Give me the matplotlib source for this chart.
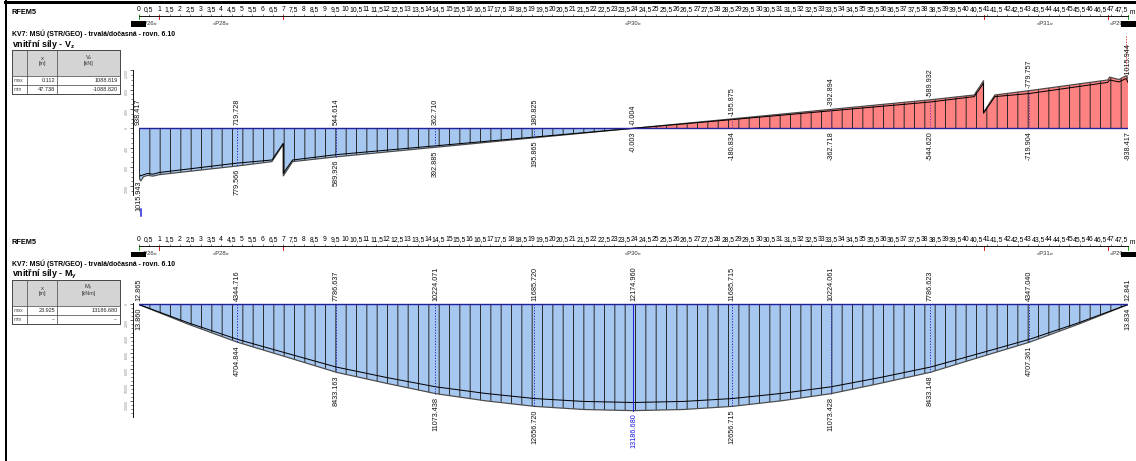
import numpy as np
import matplotlib
matplotlib.use("Agg")
import matplotlib.pyplot as plt
import matplotlib.transforms as mtransforms
from matplotlib.ticker import MultipleLocator, FuncFormatter
from matplotlib.patches import Rectangle

W, H, DPI = 1136, 461, 124
PX = 72.0 / DPI  # points per pixel

plt.rcParams['font.family'] = ['Liberation Sans', 'DejaVu Sans']
plt.rcParams['mathtext.fontset'] = 'custom'
plt.rcParams['mathtext.rm'] = 'Liberation Sans'
plt.rcParams['mathtext.it'] = 'Liberation Sans:italic'
plt.rcParams['mathtext.bf'] = 'Liberation Sans:bold'
plt.rcParams['hatch.color'] = '#262626'
plt.rcParams['hatch.linewidth'] = 0.55

# ---------------- data ----------------
beam_length = 47.85
node_x = [0.0, 1.0, 7.0, 40.85, 46.85, 47.85]
node_kind = ['end', 'inner', 'inner', 'inner', 'inner', 'end']
member_names = ['«P26»', '«P28»', '«P30»', '«P31»', '«P29»']
result_x = [0.0, 4.785, 9.57, 14.355, 19.14, 23.925, 28.71, 33.495, 38.28, 43.065, 47.85]

# shear force Vz [kN] (positive drawn downwards)
vz_x = [0.0, 0.11, 0.25, 0.45, 0.7, 1.0, 4.785, 6.45, 7.0, 7.0, 7.45, 9.57, 14.355,
        19.14, 23.925, 28.71, 33.495, 38.28, 40.4, 40.85, 40.85, 41.4, 43.065,
        46.85, 46.95, 47.4, 47.74, 47.85]
vz_outer = [1015.9, 1088.8, 1000, 975, 990, 960, 779.6, 690, 330, 985, 690, 589.9, 392.9,
            195.9, -0.003, -195.9, -392.9, -589.9, -690, -985, -330, -690, -779.8,
            -1000, -1060, -1010, -1088.8, -1015.9]
vz_inner = [938.4, 985, 960, 935, 950, 915, 719.7, 656, 310, 930, 656, 544.6, 362.7,
            180.8, -0.004, -180.8, -362.7, -544.6, -656, -930, -310, -656, -719.9,
            -950, -1000, -960, -1030, -938.4]
vz_upper_values = [938.417, 719.728, 544.614, 362.710, 180.825, -0.004, -195.875,
                   -392.894, -589.932, -779.757, -1015.944]
vz_lower_values = [1015.943, 779.566, 589.926, 392.885, 195.865, -0.003, -180.834,
                   -362.718, -544.620, -719.904, -938.417]

# bending moment My [kNm] (positive drawn downwards)
my_x = [0.0, 2.39, 4.785, 7.0, 9.57, 12.0, 14.355, 16.75, 19.14, 21.5, 23.925,
        26.35, 28.71, 31.1, 33.495, 35.85, 38.28, 40.85, 43.065, 45.46, 47.85]
my_outer = [13.86, 2450, 4704.844, 6420, 8433.163, 9806, 11073.438, 11960, 12656.72, 13044,
            13186.68, 13044, 12656.715, 11960, 11073.428, 9806, 8433.148, 6420, 4707.361,
            2450, 13.834]
my_inner = [12.865, 2280, 4344.716, 5950, 7786.637, 9080, 10224.071, 11044, 11685.72, 12043,
            12174.96, 12043, 11685.715, 11044, 10224.061, 9080, 7786.623, 5950, 4347.04,
            2280, 12.841]
my_upper_values = [12.865, 4344.716, 7786.637, 10224.071, 11685.720, 12174.960, 11685.715,
                   10224.061, 7786.623, 4347.040, 12.841]
my_lower_values = [13.860, 4704.844, 8433.163, 11073.438, 12656.720, 13186.680, 12656.715,
                   11073.428, 8433.148, 4707.361, 13.834]

vz_table = [('max', '0.112', '1088.819'), ('min', '47.738', '-1088.820')]
my_table = [('max', '23.925', '13186.680'), ('min', '--', '--')]

# ---------------- styles ----------------
BLUE = '#A6C7EF'
RED = '#FF8282'
BASE = '#22229A'
X0, X1 = 138.5, 1128.3

fig = plt.figure(figsize=(W / DPI, H / DPI), dpi=DPI)
fig.patch.set_facecolor('white')


def pbox(x0, y0, x1, y1):
    return [x0 / W, 1 - y1 / H, (x1 - x0) / W, (y1 - y0) / H]


ov = fig.add_axes([0, 0, 1, 1])
ov.set_xlim(0, W)
ov.set_ylim(H, 0)
ov.axis('off')

# frame
ov.plot([5.5, 5.5], [0, H], color='black', lw=2.0 * PX)
ov.plot([4.5, W], [1.5, 1.5], color='black', lw=3.0 * PX)


def header(dy, subtitle, hsym, hunit, rows):
    ov.text(12, 12.5 + dy, 'RFEM5', fontsize=4.3, fontweight='bold', ha='left', va='center')
    ov.text(12, 33.3 + dy, 'KV7: MSÚ (STR/GEO) - trvalá/dočasná - rovn. 6.10',
            fontsize=4.0, fontweight='bold', ha='left', va='center')
    ov.text(12, 44.5 + dy, subtitle, fontsize=5.2, fontweight='bold', ha='left', va='center')
    y0 = 50 + dy
    xs = [12, 27, 57, 120]
    ys = [y0, y0 + 26, y0 + 35, y0 + 44]
    ov.add_patch(Rectangle((12, y0), 108, 26, facecolor='#D4D4D4', edgecolor='none'))
    for yy in ys:
        ov.plot([12, 120], [yy, yy], color='#555555', lw=0.8 * PX)
    for xx in xs:
        ov.plot([xx, xx], [y0, ys[-1]], color='#555555', lw=0.8 * PX)
    ov.add_patch(Rectangle((12, y0), 108, 44, facecolor='none', edgecolor='#222222', lw=1.0 * PX))
    ov.text(42, y0 + 8, 'x', fontsize=3.4, ha='center', va='center', color='#333333')
    ov.text(42, y0 + 14, '[m]', fontsize=3.1, ha='center', va='center', color='#333333')
    ov.text(88.5, y0 + 8, hsym, fontsize=3.4, ha='center', va='center', color='#333333')
    ov.text(88.5, y0 + 14, hunit, fontsize=3.1, ha='center', va='center', color='#333333')
    for k, (name, xv, vv) in enumerate(rows):
        yc = (ys[k + 1] + ys[k + 2]) / 2
        ov.text(13.5, yc, name, fontsize=3.0, ha='left', va='center', color='#555555')
        ov.text(55, yc, xv, fontsize=3.2, ha='right', va='center', color='#222222')
        ov.text(118, yc, vv, fontsize=3.2, ha='right', va='center', color='#222222')


def ruler(y_line):
    ax = fig.add_axes(pbox(X0, y_line, X1, y_line + 10))
    ax.set_xlim(0, beam_length)
    ax.set_ylim(0, 1)
    ax.patch.set_visible(False)
    for s in ('left', 'right', 'bottom'):
        ax.spines[s].set_visible(False)
    ax.spines['top'].set_linewidth(0.9 * PX)
    ax.xaxis.set_ticks_position('top')
    ax.xaxis.set_major_locator(MultipleLocator(0.5))
    ax.xaxis.set_major_formatter(FuncFormatter(lambda v, p: f"{v:g}".replace('.', ',')))
    ax.tick_params(axis='x', direction='out', length=1.2, width=0.5 * PX,
                   pad=0.4, labelsize=3.9)
    ax.set_yticks([])
    for xn, kind in zip(node_x, node_kind):
        col = '#22AA22' if kind == 'end' else '#DD2222'
        ax.plot([xn, xn], [0.62, 1.05], color=col, lw=1.0 * PX, clip_on=False)
    for k, name in enumerate(member_names):
        xm = (node_x[k] + node_x[k + 1]) / 2
        ax.text(xm, 0.25, name, fontsize=3.4, ha='center', va='center', color='#333333')
    for xn in (node_x[0], node_x[-1]):
        ax.add_patch(Rectangle((xn - 0.36, -0.08), 0.72, 0.55, facecolor='black',
                               edgecolor='none', zorder=5, clip_on=False))
    ax.text(1.0, 1.0, ' m', transform=ax.transAxes, fontsize=3.9, ha='left', va='bottom')
    return ax


def diagram(y_top, y_bot, y_base, per_px, xs, outer, inner, upper_vals, lower_vals,
            major, minor, highlight=None):
    ax = fig.add_axes(pbox(X0, y_top, X1, y_bot))
    ax.set_xlim(0, beam_length)
    ax.set_ylim((y_bot - y_base) * per_px, -(y_base - y_top) * per_px)
    ax.patch.set_visible(False)
    for s in ('top', 'right', 'bottom'):
        ax.spines[s].set_visible(False)
    ax.spines['left'].set_position(('outward', (X0 - 132.7) * PX))
    ax.spines['left'].set_linewidth(0.9 * PX)
    ax.set_xticks([])
    ax.yaxis.set_major_locator(MultipleLocator(major))
    ax.yaxis.set_minor_locator(MultipleLocator(minor))
    ax.yaxis.set_major_formatter(FuncFormatter(lambda v, p: f"{v:.0f}"))
    ax.tick_params(axis='y', which='major', length=3 * PX, width=0.6 * PX, pad=0.6,
                   labelsize=2.0, labelcolor='#888888', labelrotation=90)
    ax.tick_params(axis='y', which='minor', length=1.6 * PX, width=0.5 * PX)

    xs = np.asarray(xs, float)
    outer = np.asarray(outer, float)
    inner = np.asarray(inner, float)
    ax.fill_between(xs, 0, outer, where=outer >= 0, interpolate=True, facecolor=BLUE,
                    edgecolor='#262626', hatch='||', linewidth=0, zorder=1)
    ax.fill_between(xs, 0, outer, where=outer <= 0, interpolate=True, facecolor=RED,
                    edgecolor='#262626', hatch='||', linewidth=0, zorder=1)
    ax.plot(xs, outer, color='#4a4a4a', lw=1.2 * PX, zorder=3)
    ax.plot(xs, inner, color='black', lw=1.0 * PX, zorder=3)
    for j in (0, -1):
        ax.plot([xs[j], xs[j]], [0, outer[j]], color='#333333', lw=1.0 * PX, zorder=3)
    ax.plot([0, beam_length], [0, 0], color=BASE, lw=1.4 * PX, zorder=4)

    for i, xv in enumerate(result_x):
        u, l = upper_vals[i], lower_vals[i]
        ext = u if abs(u) > abs(l) else l
        if 0 < i < len(result_x) - 1:
            if highlight is not None and i == highlight:
                ax.plot([xv, xv], [0, ext], color='#2222DD', lw=1.0 * PX, zorder=4)
            else:
                col = '#2A2AC0' if ext > 0 else '#8030A0'
                ax.plot([xv, xv], [0, ext], color=col, lw=1.0 * PX, ls=(0, (1.2, 1.6)), zorder=4)
        ax.annotate(f"{u:.3f}", xy=(xv, min(0.0, u)), xytext=(0, 3), textcoords='offset pixels',
                    rotation=90, ha='center', va='bottom', fontsize=4.2, color='#111111',
                    annotation_clip=False)
        lc = '#1A1AE6' if (highlight is not None and i == highlight) else '#111111'
        ax.annotate(f"{l:.3f}", xy=(xv, max(0.0, l)), xytext=(0, -3), textcoords='offset pixels',
                    rotation=90, ha='center', va='top', fontsize=4.2, color=lc,
                    annotation_clip=False)
    return ax


# ---------- top panel: Vz ----------
header(0, r'vnitřní síly - V$_\mathbf{z}$', r'V$_\mathrm{z}$', '[kN]', vz_table)
ruler(15.7)
axv = diagram(70, 195, 128.3, 20.7, vz_x, vz_outer, vz_inner,
              vz_upper_values, vz_lower_values, 400, 100)
bt = mtransforms.blended_transform_factory(axv.transData, axv.transAxes)
axv.plot([float(vz_table[0][1])] * 2, [-0.11, -0.17], transform=bt, color='#2020E0',
         lw=1.5 * PX, clip_on=False)
axv.plot([float(vz_table[1][1])] * 2, [1.27, 0.97], transform=bt, color='#E03030',
         lw=1.0 * PX, ls=(0, (1.2, 1.4)), clip_on=False)

# ---------- bottom panel: My ----------
header(230, r'vnitřní síly - M$_\mathbf{y}$', r'M$_\mathrm{y}$', '[kNm]', my_table)
ruler(246.2)
diagram(303, 417, 304.3, 124.0, my_x, my_outer, my_inner,
        my_upper_values, my_lower_values, 2000, 500, highlight=5)

fig.savefig('out.png', dpi=DPI, facecolor='white')
